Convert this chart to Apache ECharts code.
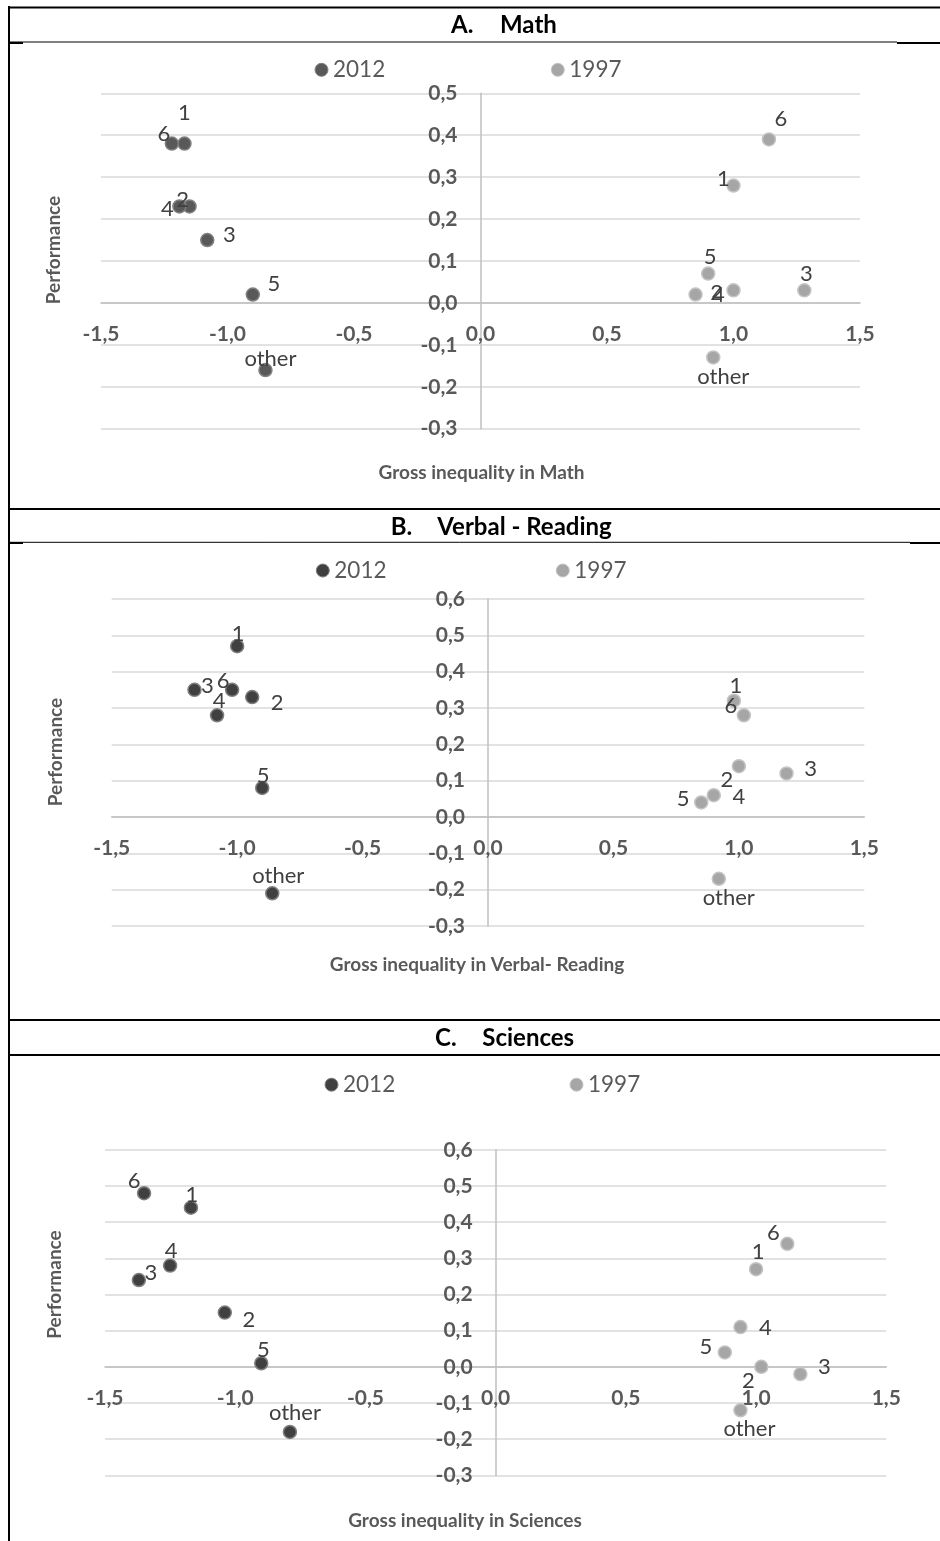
<!DOCTYPE html>
<html>
<head>
<meta charset="utf-8">
<script src="https://cdn.jsdelivr.net/npm/echarts@6/dist/echarts.min.js"></script>
<style>
  html, body { margin: 0; padding: 0; background: #ffffff; }
  #chart { width: 940px; height: 1541px; }
</style>
</head>
<body>
<div id="chart"></div>
<script>
// ---------------- DATA ----------------
const pointNames = ['1', '2', '3', '4', '5', '6', 'other'];
const seriesNames = ['2012', '1997'];

// A. Math
const mathX2012 = [-1.17, -1.15, -1.08, -1.19, -0.90, -1.22, -0.85];
const mathY2012 = [0.38, 0.23, 0.15, 0.23, 0.02, 0.38, -0.16];
const mathX1997 = [1.00, 0.85, 1.28, 1.00, 0.90, 1.14, 0.92];
const mathY1997 = [0.28, 0.02, 0.03, 0.03, 0.07, 0.39, -0.13];

// B. Verbal - Reading
const verbX2012 = [-1.00, -0.94, -1.17, -1.08, -0.90, -1.02, -0.86];
const verbY2012 = [0.47, 0.33, 0.35, 0.28, 0.08, 0.35, -0.21];
const verbX1997 = [0.98, 1.00, 1.19, 0.90, 0.85, 1.02, 0.92];
const verbY1997 = [0.32, 0.14, 0.12, 0.06, 0.04, 0.28, -0.17];

// C. Sciences
const sciX2012 = [-1.17, -1.04, -1.37, -1.25, -0.90, -1.35, -0.79];
const sciY2012 = [0.44, 0.15, 0.24, 0.28, 0.01, 0.48, -0.18];
const sciX1997 = [1.00, 1.02, 1.17, 0.94, 0.88, 1.12, 0.94];
const sciY1997 = [0.27, 0.00, -0.02, 0.11, 0.04, 0.34, -0.12];

// Axis ranges / tick steps
const xRange = [-1.5, 1.5];
const xStep = 0.5;
const mathYRange = [-0.3, 0.5];
const verbYRange = [-0.3, 0.6];
const sciYRange = [-0.3, 0.6];
const yStep = 0.1;

// Text
const panelLetters = ['A.', 'B.', 'C.'];
const panelTitles = ['Math', 'Verbal - Reading', 'Sciences'];
const xAxisTitles = ['Gross inequality in Math', 'Gross inequality in Verbal- Reading', 'Gross inequality in Sciences'];
const yAxisTitle = 'Performance';

// ---------------- STYLE / LAYOUT ----------------
const FONT = 'Lato, "Open Sans", sans-serif';
// label offsets (pixels) for each point, same order as pointNames
const offMath2012 = [[0, -31], [-7, -7], [22, -5], [-12, 2], [21, -11], [-8, -10], [5, -11]];
const offMath1997 = [[-10, -7], [21, -2], [2, -16], [-15, 5], [2, -17], [12, -21], [10, 19]];
const offVerb2012 = [[1, -12], [25, 6], [13, -4], [2, -14], [1, -12], [-9, -9], [6, -17]];
const offVerb1997 = [[2, -15], [-12, 14], [24, -4], [25, 2], [-18, -4], [-13, -9], [10, 19]];
const offSci2012 = [[1, -12.5], [24, 7], [12, -7], [1, -15], [2, -13], [-10, -12], [5, -19]];
const offSci1997 = [[2, -17], [-13, 14], [24, -7], [25, 1], [-19, -5], [-14, -11], [9, 19]];

const grids = [
  { left: 101, top: 93.3, width: 759, height: 335.4 },
  { left: 111.7, top: 599, width: 752.6, height: 327 },
  { left: 105, top: 1149.8, width: 781.3, height: 325.6 }
];
const yRanges = [mathYRange, verbYRange, sciYRange];

const dark = [
  { color: '#595959', borderColor: '#808080' },
  { color: '#404040', borderColor: '#7f7f7f' },
  { color: '#404040', borderColor: '#7f7f7f' }
];
const light = { color: '#a6a6a6', borderColor: '#c4c4c4' };

const fmt = v => v.toFixed(1).replace('.', ',');

function makeData(xs, ys, offs) {
  return xs.map((x, i) => ({
    name: pointNames[i],
    value: [x, ys[i]],
    label: { offset: offs[i] }
  }));
}

const panels = [
  { d12: makeData(mathX2012, mathY2012, offMath2012), d97: makeData(mathX1997, mathY1997, offMath1997) },
  { d12: makeData(verbX2012, verbY2012, offVerb2012), d97: makeData(verbX1997, verbY1997, offVerb1997) },
  { d12: makeData(sciX2012, sciY2012, offSci2012), d97: makeData(sciX1997, sciY1997, offSci1997) }
];

const xAxes = [], yAxes = [], series = [], legends = [];
grids.forEach((g, i) => {
  // axes cross at value 0 (Excel style): shift the axes to the zero position
  const yr = yRanges[i];
  const xAxisShift = -(0 - yr[0]) / (yr[1] - yr[0]) * g.height;
  const yAxisShift = -(0 - xRange[0]) / (xRange[1] - xRange[0]) * g.width;
  xAxes.push({
    type: 'value', gridIndex: i, min: xRange[0], max: xRange[1], interval: xStep,
    position: 'bottom', offset: xAxisShift,
    axisLine: { show: true, onZero: false, lineStyle: { color: '#bfbfbf', width: 1.5 } },
    axisTick: { show: false },
    splitLine: { show: false },
    axisLabel: { formatter: fmt, margin: 21, color: '#595959', fontFamily: FONT, fontWeight: 'bold', fontSize: 21, hideOverlap: false }
  });
  yAxes.push({
    type: 'value', gridIndex: i, min: yr[0], max: yr[1], interval: yStep,
    position: 'left', offset: yAxisShift,
    axisLine: { show: true, onZero: false, lineStyle: { color: '#bfbfbf', width: 1.5 } },
    axisTick: { show: false },
    splitLine: { show: true, lineStyle: { color: '#d9d9d9', width: 1.5 } },
    axisLabel: { formatter: fmt, margin: 23, color: '#595959', fontFamily: FONT, fontWeight: 'bold', fontSize: 21, hideOverlap: false }
  });
  const labelBase = {
    show: true, position: 'inside', align: 'center', verticalAlign: 'middle',
    formatter: '{b}', color: '#404040', fontFamily: FONT, fontSize: 22
  };
  series.push({
    type: 'scatter', name: seriesNames[0], xAxisIndex: i, yAxisIndex: i,
    symbolSize: 13, data: panels[i].d12,
    itemStyle: { color: dark[i].color, borderColor: dark[i].borderColor, borderWidth: 1.5, opacity: 1 },
    label: labelBase, emphasis: { disabled: true }, z: 3
  });
  series.push({
    type: 'scatter', name: seriesNames[1], xAxisIndex: i, yAxisIndex: i,
    symbolSize: 13, data: panels[i].d97,
    itemStyle: { color: light.color, borderColor: light.borderColor, borderWidth: 1.5, opacity: 1 },
    label: labelBase, emphasis: { disabled: true }, z: 3
  });
});

// legends: marker centers
const legendPos = [
  [[321, 69.3], [557.3, 69.3]],
  [[322.3, 570], [562.3, 570]],
  [[331, 1084.2], [576, 1084.2]]
];
legendPos.forEach((pp, i) => {
  pp.forEach((p, j) => {
    const st = j === 0 ? dark[i] : light;
    legends.push({
      left: p[0] - 6.5, top: p[1] - 11, padding: 0, selectedMode: false,
      icon: 'circle', itemWidth: 13, itemHeight: 13,
      data: [{ name: seriesNames[j], itemStyle: { color: st.color, borderColor: st.borderColor, borderWidth: 1 } }],
      textStyle: { color: '#595959', fontFamily: FONT, fontSize: 22.5, lineHeight: 22 }
    });
  });
});

// graphic: borders, titles, axis titles
const G = [];
function line(x1, y1, x2, y2, w) {
  G.push({ type: 'line', shape: { x1, y1, x2, y2 }, style: { stroke: '#000', lineWidth: w }, silent: true });
}
line(9, 6, 9, 1541, 2);
// A
line(8, 7.5, 940, 7.5, 2);
line(9, 42, 897, 42, 1);
line(9, 43, 23, 43, 2);
line(897, 43, 940, 43, 2);
// B
line(8, 509, 940, 509, 2);
line(9, 542.3, 910, 542.3, 1);
line(9, 543, 23, 543, 2);
line(910, 543, 940, 543, 2);
// C
line(8, 1020, 940, 1020, 2);
line(9, 1055, 940, 1055, 2);

const titleLetterX = [451, 390.7, 435];
const titleTextX = [500, 437.3, 482.3];
const titleY = [25, 527.3, 1038.5];
for (let i = 0; i < 3; i++) {
  G.push({ type: 'text', x: titleLetterX[i], y: titleY[i], style: { text: panelLetters[i], fill: '#000', font: 'bold 24px ' + FONT, align: 'left', verticalAlign: 'middle' }, silent: true });
  G.push({ type: 'text', x: titleTextX[i], y: titleY[i], style: { text: panelTitles[i], fill: '#000', font: 'bold 24px ' + FONT, align: 'left', verticalAlign: 'middle' }, silent: true });
}
const xTitlePos = [[481.5, 472.5], [477, 965], [465, 1521]];
const yTitlePos = [[54, 250], [56, 752], [55, 1284.5]];
for (let i = 0; i < 3; i++) {
  G.push({ type: 'text', x: xTitlePos[i][0], y: xTitlePos[i][1], style: { text: xAxisTitles[i], fill: '#595959', font: 'bold 19px ' + FONT, align: 'center', verticalAlign: 'middle' }, silent: true });
  G.push({ type: 'text', x: yTitlePos[i][0], y: yTitlePos[i][1], rotation: Math.PI / 2, style: { text: yAxisTitle, fill: '#595959', font: 'bold 19px ' + FONT, align: 'center', verticalAlign: 'middle' }, silent: true });
}

const chart = echarts.init(document.getElementById('chart'), null, { renderer: 'canvas' });
chart.setOption({
  animation: false,
  backgroundColor: '#ffffff',
  grid: grids.map(g => Object.assign({ containLabel: false }, g)),
  xAxis: xAxes,
  yAxis: yAxes,
  legend: legends,
  series: series,
  graphic: { elements: G }
});
</script>
</body>
</html>
